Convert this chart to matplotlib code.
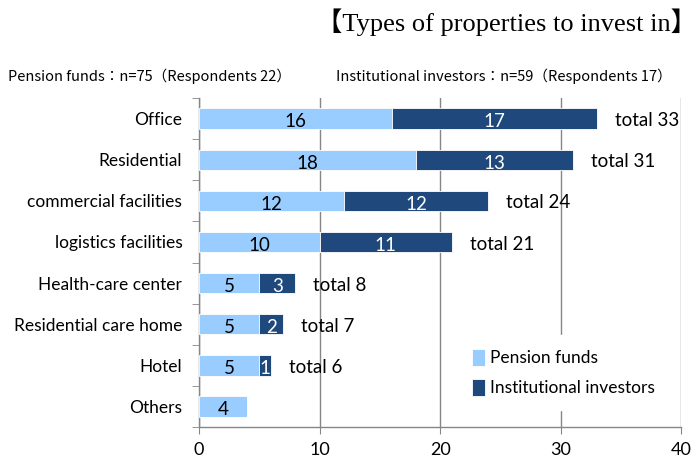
import matplotlib
matplotlib.use("Agg")
import matplotlib.pyplot as plt
import numpy as np

categories = ['Office', 'Residential', 'commercial facilities', 'logistics facilities',
              'Health-care center', 'Residential care home', 'Hotel', 'Others']
pension = [16, 18, 12, 10, 5, 5, 5, 4]
institutional = [17, 13, 12, 11, 3, 2, 1, 0]
totals = [33, 31, 24, 21, 8, 7, 6, None]

light = '#99CCFF'
dark = '#1F497D'
grid_c = '#868686'
font = ['Lato', 'DejaVu Sans']

fig = plt.figure(figsize=(6.98, 4.63), dpi=100)
ax = fig.add_axes([0.285, 0.078, 0.691, 0.71])

y = np.arange(len(categories))
ax.barh(y, pension, height=0.5, color=light, edgecolor='white', linewidth=0.6,
        label='Pension funds', zorder=3)
ax.barh(y, institutional, left=pension, height=0.5, color=dark, edgecolor='white',
        linewidth=0.6, label='Institutional investors', zorder=3)

for i in range(len(categories)):
    ax.text(pension[i] / 2, y[i] + 0.08, str(pension[i]), ha='center', va='center',
            fontsize=13.5, family=font, color='black', zorder=4)
    if institutional[i]:
        ax.text(pension[i] + institutional[i] / 2, y[i] + 0.08, str(institutional[i]),
                ha='center', va='center', fontsize=13.5, family=font, color='white', zorder=4)
    if totals[i] is not None:
        ax.text(totals[i] + 1.5, y[i] + 0.05, 'total %d' % totals[i], ha='left', va='center',
                fontsize=13.5, family=font, color='black', zorder=4)

ax.set_xlim(0, 40)
ax.set_ylim(len(categories) - 0.5, -0.5)
ax.set_xticks([0, 10, 20, 30, 40])
ax.set_yticks(y)
ax.set_yticklabels(categories, family=font, fontsize=12.5)
ax.set_yticks(np.arange(-0.5, len(categories), 1), minor=True)
ax.tick_params(axis='y', which='major', length=0, pad=12)
ax.tick_params(axis='y', which='minor', length=5, color=grid_c, direction='out')
ax.tick_params(axis='x', length=5, color=grid_c, direction='out', labelsize=13, pad=6)
for lab in ax.get_xticklabels():
    lab.set_family(font)

ax.grid(axis='x', color=grid_c, linewidth=1, zorder=0)
for s in ['top', 'right']:
    ax.spines[s].set_visible(False)
for s in ['left', 'bottom']:
    ax.spines[s].set_color(grid_c)
    ax.spines[s].set_linewidth(1)

leg = ax.legend(loc='center left', bbox_to_anchor=(0.531, 0.165), frameon=True,
                prop={'family': font, 'size': 12.5}, handlelength=0.75, handleheight=1.1,
                handletextpad=0.25, labelspacing=0.75, borderpad=0.5)
leg.get_frame().set_edgecolor('white')
leg.get_frame().set_facecolor('white')
leg.get_frame().set_alpha(1)
leg.get_frame().set_boxstyle('square')

fig.text(0.999, 0.953, '【Types of properties to invest in】', ha='right', va='center',
         fontsize=19, family=['Liberation Serif', 'Noto Sans CJK JP'])
hdr = ['Noto Sans CJK JP', 'DejaVu Sans']
fig.text(0.011, 0.836, 'Pension funds：n=75（Respondents 22）', ha='left', va='center',
         fontsize=10.5, family=hdr)
fig.text(0.481, 0.836, 'Institutional investors：n=59（Respondents 17）', ha='left', va='center',
         fontsize=10.5, family=hdr)

fig.savefig('out.png', dpi=100)
